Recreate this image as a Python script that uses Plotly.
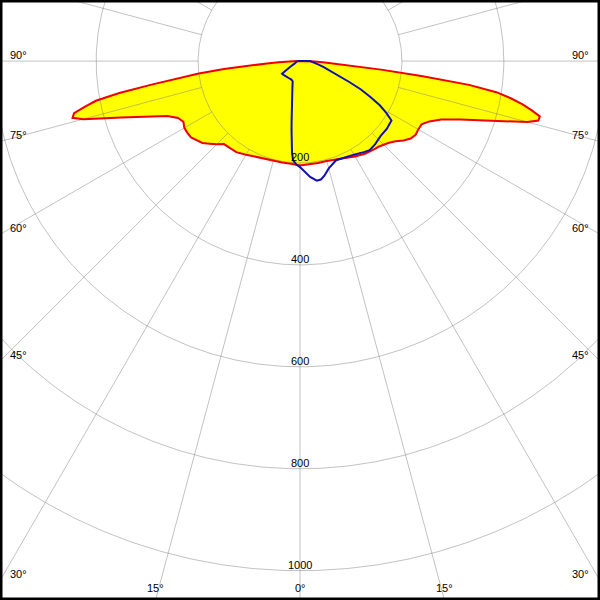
import numpy as np
import plotly.graph_objects as go

# ---- data (luminous intensity, cd) ----
red_gamma = [-90, -89, -88, -87, -86, -85, -84, -83, -82, -81, -80, -79, -78, -77, -76, -75,
             -72.5, -70, -67.5, -65, -62.5, -60, -57.5, -55, -52.5, -50, -47.5, -45, -42.5, -40,
             -35, -30, -25, -20, -15, -10, -5, 0,
             5, 10, 15, 20, 25, 30, 35, 40, 42.5, 45, 47.5, 50, 52.5, 55, 57.5, 60, 62.5,
             65, 67.5, 70, 72.5, 75, 76, 77, 78, 79, 80, 81, 82, 83, 84, 85, 86, 87, 88, 89, 90]
red_cd = [6, 14, 26, 42, 65, 95, 150, 200, 245, 295, 360, 408, 432, 455, 460, 440,
          368, 318, 282, 264, 258, 262, 262, 261, 255, 250, 240, 231, 221, 220,
          218, 212, 207, 205, 203, 202, 202, 205,
          203, 203, 203, 205, 210, 216, 222, 226, 228, 232, 237, 245, 256, 265, 269, 268, 269,
          280, 300, 335, 390, 462, 482, 483, 465, 445, 420, 390, 335, 240, 160, 100, 70, 45, 28, 15, 6]

blue_gamma = [-90, -80, -70, -65, -60, -57, -55, -50, -40, -30, -25, -20, -15, -12, -10, -8, -7,
              -6, -5, -4, -2, 0, 2, 5, 8, 10, 12, 15, 20, 25, 30, 35, 38, 42, 47, 52, 57, 59,
              61, 63, 65, 67, 70, 73, 76, 80, 85, 90]
blue_cd = [5, 6, 8, 12, 22, 40, 43, 42, 41, 40, 40, 42, 58, 76, 93, 118, 136,
           158, 180, 195, 203, 208, 215, 228, 237, 236, 230, 218, 207, 208, 212, 218, 222, 220, 216, 216, 214, 198,
           179, 155, 132, 105, 78, 60, 48, 36, 26, 20]

ring_values = [200, 400, 600, 800, 1000]
ring_labels = ["200", "400", "600", "800", "1000"]
spoke_angles = list(range(-180, 180, 15))
left_angle_labels = [90, 75, 60, 45, 30]
bottom_angle_labels = [-15, 0, 15]

# ---- geometry / layout ----
S = 0.5096            # px per cd
W = H = 600
CX, CY = 300.0, 61.1  # pole position in px
X = CX / S
YT = CY / S
YB = (H - CY) / S


def to_xy(g, r):
    t = np.radians(np.asarray(g, dtype=float))
    r = np.asarray(r, dtype=float)
    return r * np.sin(t), -r * np.cos(t)


fig = go.Figure()

# yellow fill
rx, ry = to_xy(red_gamma, red_cd)
fig.add_trace(go.Scatter(x=rx, y=ry, fill='toself', fillcolor='#ffff00', mode='lines',
                         line=dict(width=0), hoverinfo='skip', showlegend=False))

grid_col = 'rgba(120,120,120,0.45)'
# rings
phi = np.linspace(0, 2 * np.pi, 721)
for rv in ring_values:
    fig.add_trace(go.Scatter(x=rv * np.cos(phi), y=rv * np.sin(phi), mode='lines',
                             line=dict(color=grid_col, width=1), hoverinfo='skip', showlegend=False))
# spokes
for a in spoke_angles:
    sx, sy = to_xy([a, a], [200, 1500])
    fig.add_trace(go.Scatter(x=sx, y=sy, mode='lines', line=dict(color=grid_col, width=1),
                             hoverinfo='skip', showlegend=False))

# red outline
fig.add_trace(go.Scatter(x=np.append(rx, rx[0]), y=np.append(ry, ry[0]), mode='lines',
                         line=dict(color='#ee0000', width=2), hoverinfo='skip', showlegend=False))
# blue curve
bx, by = to_xy(blue_gamma, blue_cd)
fig.add_trace(go.Scatter(x=np.append(bx, bx[0]), y=np.append(by, by[0]), mode='lines',
                         line=dict(color='#1010b8', width=2), hoverinfo='skip', showlegend=False))

font = dict(family='Liberation Sans, Arial, sans-serif', size=11, color='black')
ann = []
for rv, lab in zip(ring_values, ring_labels):
    ann.append(dict(x=0, y=-rv, xref='x', yref='y', text=lab, showarrow=False, font=font,
                    xanchor='center', yanchor='middle', yshift=6))

for a in left_angle_labels:
    t = np.radians(a)
    yint = -X / np.tan(t) if a != 90 else 0.0
    lab = f"{a}°"
    ann.append(dict(x=-X, y=yint, xref='x', yref='y', text=lab, showarrow=False, font=font,
                    xanchor='left', yanchor='middle', xshift=8, yshift=6.5))
    ann.append(dict(x=X, y=yint, xref='x', yref='y', text=lab, showarrow=False, font=font,
                    xanchor='right', yanchor='middle', xshift=-9, yshift=6.5))

for a in bottom_angle_labels:
    xint = YB * np.tan(np.radians(a))
    ann.append(dict(x=xint, y=-YB, xref='x', yref='y', text=f"{abs(a)}°", showarrow=False,
                    font=font, xanchor='center', yanchor='middle', yshift=12))

fig.update_layout(
    width=W, height=H,
    margin=dict(l=0, r=0, t=0, b=0),
    paper_bgcolor='white', plot_bgcolor='white',
    xaxis=dict(range=[-X, X], visible=False, fixedrange=True),
    yaxis=dict(range=[-YB, YT], visible=False, fixedrange=True),
    annotations=ann,
    shapes=[dict(type='rect', xref='paper', yref='paper', x0=0, y0=0, x1=1, y1=1,
                 line=dict(color='black', width=5), layer='above')],
    showlegend=False,
)

fig.write_html("out.html", config={'displayModeBar': False},
               post_script="document.body.style.margin='0';document.body.style.overflow='hidden';")
